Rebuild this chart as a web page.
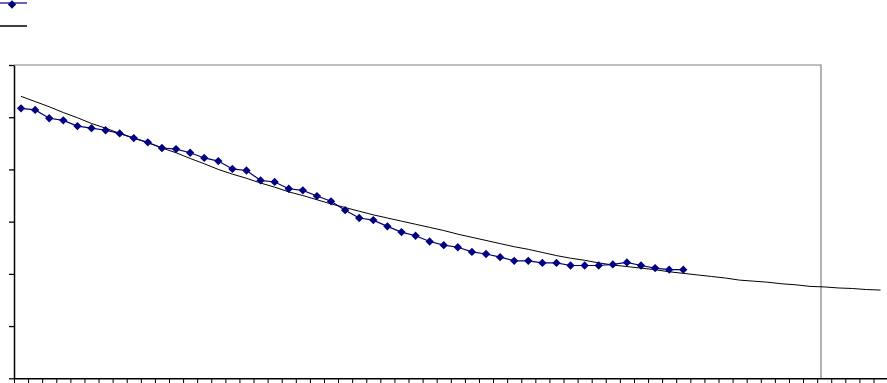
<!DOCTYPE html>
<html>
<head>
<meta charset="utf-8">
<script src="https://cdn.jsdelivr.net/npm/d3@7"></script>
<style>
  body { margin: 0; background: #fff; }
  svg { display: block; }
</style>
</head>
<body>
<script>
// categories along the bottom (no labels printed on the chart)
const categories = d3.range(1, 63)

// measured series (blue diamonds)
const actual = [
  51.7, 51.4, 49.8, 49.4, 48.3, 47.9, 47.5, 46.9, 46.0, 45.2,
  44.1, 43.9, 43.2, 42.2, 41.6, 40.1, 39.8, 37.9, 37.6, 36.3,
  36.0, 34.9, 33.9, 32.2, 30.7, 30.3, 29.1, 28.0, 27.3, 26.2,
  25.5, 25.1, 24.2, 23.8, 23.2, 22.5, 22.5, 22.1, 22.1, 21.6,
  21.6, 21.6, 21.8, 22.2, 21.6, 21.1, 20.8, 20.8
]

// trend line (black)
const trend = [
  54.0, 53.0, 52.0, 50.9, 49.9, 48.8, 47.9, 46.9, 46.0, 45.1,
  44.1, 43.2, 42.1, 41.1, 40.0, 39.1, 38.3, 37.4, 36.6, 35.7,
  35.0, 34.2, 33.4, 32.7, 32.0, 31.3, 30.7, 30.1, 29.5, 28.9,
  28.3, 27.6, 27.0, 26.4, 25.8, 25.2, 24.7, 24.1, 23.5, 23.0,
  22.6, 22.1, 21.7, 21.4, 21.1, 20.8, 20.4, 20.1, 19.8, 19.5,
  19.2, 18.8, 18.6, 18.4, 18.1, 17.9, 17.6, 17.5, 17.3, 17.2,
  17.0, 16.9
]

const yTicks = [0, 10, 20, 30, 40, 50, 60]

const width = 887,
  height = 383
const plot = { left: 14, top: 65, bottom: 378.3, right: 821 }
const step = 14.09

const svg = d3
  .select('body')
  .append('svg')
  .attr('width', width)
  .attr('height', height)

// scales: one slot per category, points in slot centres
const xScale = d3
  .scaleLinear()
  .domain([0, categories.length + 1])
  .range([plot.left, plot.left + step * (categories.length + 1)])

const yScale = d3
  .scaleLinear()
  .domain([0, 60])
  .range([plot.bottom, plot.top])

const cx = (i) => xScale(i + 0.5)

// plot area border (top + right, gray)
svg
  .append('path')
  .attr('d', `M${plot.left},${plot.top}H${plot.right}V${plot.bottom}`)
  .attr('fill', 'none')
  .attr('stroke', '#808080')
  .attr('stroke-width', 1.2)

// axes
const xAxis = svg
  .append('g')
  .attr('transform', `translate(0,${plot.bottom})`)
  .call(
    d3
      .axisBottom(xScale)
      .tickValues(d3.range(0, categories.length + 2))
      .tickSize(5)
      .tickSizeOuter(0)
      .tickFormat(''),
  )
xAxis.select('.domain').attr('stroke', '#000').attr('stroke-width', 1.5)
xAxis.selectAll('.tick line').attr('stroke', '#000')

const yAxis = svg
  .append('g')
  .attr('transform', `translate(${plot.left},0)`)
  .call(
    d3
      .axisLeft(yScale)
      .tickValues(yTicks)
      .tickSize(5)
      .tickSizeOuter(0)
      .tickFormat(''),
  )
yAxis.select('.domain').attr('stroke', '#000').attr('stroke-width', 1.5)
yAxis.selectAll('.tick line').attr('stroke', '#000').attr('stroke-width', 1.3)

// trend line
const line = d3
  .line()
  .x((d, i) => cx(i))
  .y((d) => yScale(d))

svg
  .append('path')
  .datum(trend)
  .attr('d', line)
  .attr('fill', 'none')
  .attr('stroke', '#000')
  .attr('stroke-width', 1)

// measured series
svg
  .append('path')
  .datum(actual)
  .attr('d', line)
  .attr('fill', 'none')
  .attr('stroke', '#000080')
  .attr('stroke-width', 1.2)

const diamond = d3.symbol().type(d3.symbolDiamond2).size(44)

svg
  .selectAll('.pt')
  .data(actual)
  .enter()
  .append('path')
  .classed('pt', true)
  .attr('d', diamond)
  .attr('transform', (d, i) => `translate(${cx(i)},${yScale(d)})`)
  .attr('fill', '#000080')

// legend (top left)
const legend = svg.append('g')
legend
  .append('line')
  .attr('x1', 0)
  .attr('x2', 27)
  .attr('y1', 3)
  .attr('y2', 3)
  .attr('stroke', '#000080')
  .attr('stroke-width', 1.2)
legend
  .append('path')
  .attr('d', diamond)
  .attr('transform', 'translate(12,4.5)')
  .attr('fill', '#000080')
legend
  .append('line')
  .attr('x1', 0)
  .attr('x2', 27)
  .attr('y1', 26)
  .attr('y2', 26)
  .attr('stroke', '#000')
  .attr('stroke-width', 1.5)
</script>
</body>
</html>
